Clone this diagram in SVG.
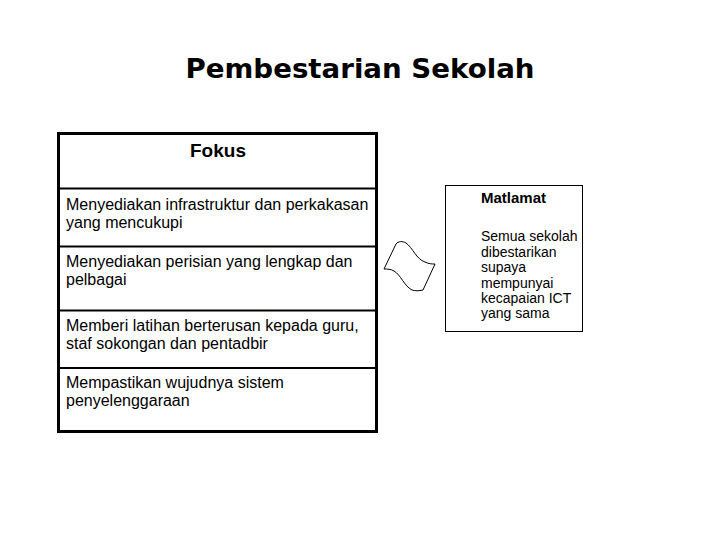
<svg xmlns="http://www.w3.org/2000/svg" width="720" height="540" viewBox="0 0 720 540">
<style>
.t{font-family:"Liberation Sans",Arial,sans-serif;font-size:16px;fill:#000}
.s{font-family:"Liberation Sans",Arial,sans-serif;font-size:14px;fill:#000}
.b{font-family:"Liberation Sans",Arial,sans-serif;font-weight:bold;fill:#000}
.div{stroke:#000;stroke-width:2;fill:none}
</style>
<rect width="720" height="540" fill="#fff"/>
<text id="title" x="360" y="78" text-anchor="middle" textLength="349" lengthAdjust="spacingAndGlyphs" style="font-family:'DejaVu Sans',Verdana,sans-serif;font-weight:bold;font-size:27px">Pembestarian Sekolah</text>
<g id="fokus">
<rect x="58.5" y="133.5" width="318" height="298" fill="#fff" stroke="#000" stroke-width="3"/>
<line class="div" x1="58.5" y1="188.5" x2="376.5" y2="188.5"/>
<line class="div" x1="58.5" y1="246.5" x2="376.5" y2="246.5"/>
<line class="div" x1="58.5" y1="310.5" x2="376.5" y2="310.5"/>
<line class="div" x1="58.5" y1="368" x2="376.5" y2="368"/>
<text class="b" x="218" y="157" text-anchor="middle" font-size="19">Fokus</text>
<text class="t" x="66" y="210">Menyediakan infrastruktur dan perkakasan</text>
<text class="t" x="66" y="228">yang mencukupi</text>
<text class="t" x="66" y="267">Menyediakan perisian yang lengkap dan</text>
<text class="t" x="66" y="285">pelbagai</text>
<text class="t" x="66" y="330.5">Memberi latihan berterusan kepada guru,</text>
<text class="t" x="66" y="348.5">staf sokongan dan pentadbir</text>
<text class="t" x="66" y="388">Mempastikan wujudnya sistem</text>
<text class="t" x="66" y="406">penyelenggaraan</text>
</g>
<g id="connector">
<path d="M384,269 L396,244 C398,241 403,241 406,243 C413,248 416,259 425,262 C429,264 432,264 435,264 L423,290 C419,291 415,291 412,290 C404,286 401,275 394,271 C391,269 387,269 384,269 Z" fill="#fff" stroke="#000" stroke-width="1"/>
</g>
<g id="matlamat">
<rect x="445.5" y="185.5" width="137" height="146" fill="#fff" stroke="#000" stroke-width="1"/>
<text class="b" x="481" y="203" font-size="15">Matlamat</text>
<text class="s" x="481" y="241">Semua sekolah</text>
<text class="s" x="481" y="256.5">dibestarikan</text>
<text class="s" x="481" y="272">supaya</text>
<text class="s" x="481" y="287.5">mempunyai</text>
<text class="s" x="481" y="303">kecapaian ICT</text>
<text class="s" x="481" y="318">yang sama</text>
</g>
</svg>
